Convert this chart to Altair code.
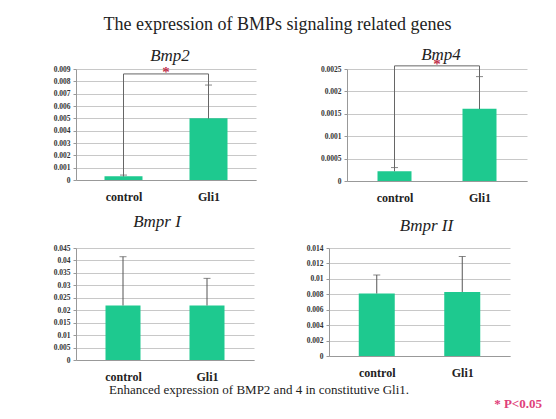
import altair as alt
import pandas as pd

categories = ["control", "Gli1"]

bmp2_vals = [0.0003, 0.0050]
bmp2_upper = [0.0004, 0.0077]
bmp2_bracket = 0.0086

bmp4_vals = [0.00022, 0.00161]
bmp4_upper = [0.00030, 0.00233]
bmp4_bracket = 0.00257

bmpr1_vals = [0.0219, 0.0219]
bmpr1_upper = [0.0415, 0.0328]

bmpr2_vals = [0.0081, 0.0083]
bmpr2_upper = [0.0105, 0.0129]

bmp2_ticks = [0, 0.001, 0.002, 0.003, 0.004, 0.005, 0.006, 0.007, 0.008, 0.009]
bmp4_ticks = [0, 0.0005, 0.001, 0.0015, 0.002, 0.0025]
bmpr1_ticks = [0, 0.005, 0.01, 0.015, 0.02, 0.025, 0.03, 0.035, 0.04, 0.045]
bmpr2_ticks = [0, 0.002, 0.004, 0.006, 0.008, 0.01, 0.012, 0.014]

BAR = "#1ec98f"
SERIF = "Liberation Serif"

label_expr = "datum.value == 0 ? '%s' : (datum.value == 1 ? '%s' : '')" % (categories[0], categories[1])


def panel(name, vals, upper, ticks, fmt, extent, width, height, title_offset, title_dx,
          bracket=None, bar_size=36):
    df = pd.DataFrame({"idx": list(range(len(categories))), "cat": categories,
                       "val": vals, "up": upper})
    ymax = ticks[-1]
    x_scale = alt.Scale(domain=[-0.5, 1.5], nice=False, zero=False)
    x_axis = alt.Axis(values=[0, 1], labelExpr=label_expr, title=None,
                      grid=False, ticks=False, labelPadding=11,
                      labelFont=SERIF, labelFontSize=12, labelFontWeight="bold",
                      labelColor="#222", domainColor="#999")
    y_scale = alt.Scale(domain=[0, ymax], nice=False)
    y_axis = alt.Axis(values=ticks, format=fmt, title=None, grid=True,
                      gridColor="#c8c8c8", domainColor="#999", tickColor="#999",
                      tickSize=3, labelFont=SERIF, labelFontSize=7.5,
                      labelFontWeight="bold", labelColor="#333",
                      labelOverlap=False, labelBound=False, labelFlush=False,
                      labelPadding=3, minExtent=extent, maxExtent=extent)

    def X(f):
        return alt.X(f, scale=x_scale, axis=x_axis)

    def Y(f):
        return alt.Y(f, scale=y_scale, axis=y_axis)

    base = alt.Chart(df)
    bars = base.mark_bar(color=BAR, size=bar_size).encode(x=X("idx:Q"), y=Y("val:Q"))
    err = base.mark_rule(color="#555", strokeWidth=1).encode(
        x=X("idx:Q"), y=Y("val:Q"), y2="up:Q")
    cap = base.mark_tick(color="#555", thickness=1, size=7, orient="horizontal").encode(
        x=X("idx:Q"), y=Y("up:Q"))
    layers = [bars, err, cap]
    if bracket is not None:
        bdf = pd.DataFrame({"idx": [0, 1], "val": vals, "top": [bracket, bracket]})
        vert = alt.Chart(bdf).mark_rule(color="#666", strokeWidth=1).encode(
            x=X("idx:Q"), y=Y("val:Q"), y2="top:Q")
        hdf = pd.DataFrame({"x0": [0], "x1": [1], "top": [bracket],
                            "mid": [0.5], "star": ["*"]})
        horiz = alt.Chart(hdf).mark_rule(color="#666", strokeWidth=1).encode(
            x=X("x0:Q"), x2="x1:Q", y=Y("top:Q"))
        star = alt.Chart(hdf).mark_text(color="#c0304a", fontSize=15, font=SERIF,
                                        fontWeight="bold", baseline="middle", dy=-2).encode(
            x=X("mid:Q"), y=Y("top:Q"), text="star:N")
        layers += [vert, horiz, star]
    return alt.layer(*layers).properties(
        width=width, height=height,
        title=alt.TitleParams(name, font=SERIF, fontSize=17, fontStyle="italic",
                              fontWeight="normal", color="#222", anchor="middle",
                              offset=title_offset, dx=title_dx))


p1 = panel("Bmp2", bmp2_vals, bmp2_upper, bmp2_ticks, ".3~f", 58, 180, 111, 0, 4,
           bracket=bmp2_bracket, bar_size=38)
p2 = panel("Bmp4", bmp4_vals, bmp4_upper, bmp4_ticks, ".4~f", 58, 180, 112, -7, 4,
           bracket=bmp4_bracket, bar_size=34)
p3 = panel("Bmpr I", bmpr1_vals, bmpr1_upper, bmpr1_ticks, ".3~f", 68, 178, 112, 13, -8,
           bar_size=35)
p4 = panel("Bmpr II", bmpr2_vals, bmpr2_upper, bmpr2_ticks, ".3~f", 68, 181, 108, 9, 7,
           bar_size=36)

row1 = alt.hconcat(p1, p2, spacing=33).properties(
    title=alt.TitleParams("The expression of BMPs signaling related genes", font=SERIF,
                          fontSize=18, fontWeight="normal", color="#222",
                          anchor="middle", dx=5, offset=12))
row2 = alt.hconcat(p3, p4, spacing=7).properties(
    title=alt.TitleParams("Enhanced expression of BMP2 and 4  in constitutive Gli1.",
                          font=SERIF, fontSize=13, fontWeight="normal", color="#222",
                          orient="bottom", anchor="middle", offset=2))

chart = alt.vconcat(row1, row2, spacing=10).properties(
    title=alt.TitleParams("* P<0.05", font=SERIF, fontSize=13, fontWeight="bold",
                          color="#e0407a", orient="bottom", anchor="end", offset=1, dx=15),
    padding={"left": 0, "top": 7, "right": 0, "bottom": 0},
    background="white",
).configure_view(stroke=None)

chart.save("out.html", embed_options={"renderer": "svg", "actions": False})
